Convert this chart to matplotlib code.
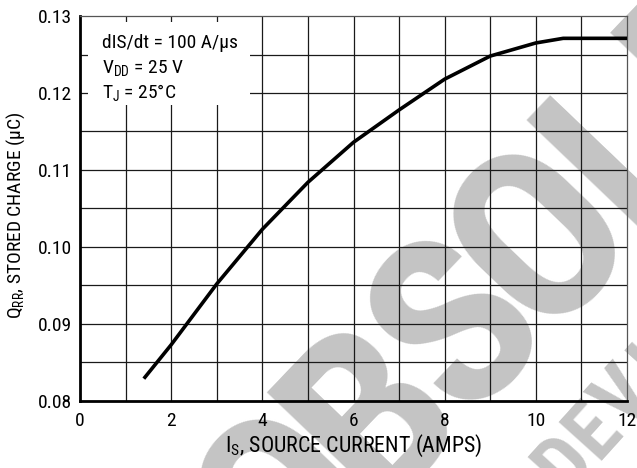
import numpy as np
import matplotlib
matplotlib.use("Agg")
import matplotlib.pyplot as plt
from matplotlib.patches import Rectangle
from matplotlib.font_manager import FontProperties

# ---- data ----
current_amps = [1.4, 2, 3, 4, 5, 6, 7, 8, 9, 10, 10.6, 12]
stored_charge_uC = [0.0829, 0.0873, 0.0952, 0.1023, 0.1084, 0.1136,
                    0.1178, 0.1218, 0.1248, 0.1265, 0.1271, 0.1271]
x_ticks = [0, 2, 4, 6, 8, 10, 12]
y_ticks = [0.08, 0.09, 0.10, 0.11, 0.12, 0.13]
y_tick_labels = ["0.08", "0.09", "0.10", "0.11", "0.12", "0.13"]
conditions = [r"dIS/dt = 100 A/μs", r"V$_{DD}$ = 25 V", r"T$_{J}$ = 25°C"]
watermark_main = "OBSOLETE"
watermark_sub = "DEVICE"

MAIN = "Roboto Condensed"
FONT = [MAIN, "IBM Plex Sans Condensed", "DejaVu Sans"]
plt.rcParams["font.family"] = FONT
plt.rcParams["mathtext.fontset"] = "custom"
plt.rcParams["mathtext.rm"] = MAIN
plt.rcParams["mathtext.it"] = MAIN
plt.rcParams["mathtext.default"] = "regular"

W, H = 637, 468
fig = plt.figure(figsize=(W / 100, H / 100), dpi=100)
fig.patch.set_facecolor("white")
ax = fig.add_axes([0.1256, 0.1432, 0.8587, 0.8226])
ax.set_facecolor("none")

# ---- watermark: letters laid out along a diagonal ----
renderer = fig.canvas.get_renderer()


def place_watermark(text, idx, target_px, size, angle, step):
    prop = FontProperties(family=FONT, weight="bold", size=size)
    th = np.deg2rad(angle)
    u = np.array([np.cos(th), np.sin(th)])
    up = np.array([-np.sin(th), np.cos(th)])
    tgt = np.array([target_px[0], H - target_px[1]], dtype=float)
    for i, ch in enumerate(text):
        w_c, h_c, d_c = renderer.get_text_width_height_descent(ch, prop, ismath=False)
        cap = h_c - d_c
        c = tgt + (i - idx) * step * u
        p = c - (cap / 2) * up
        fig.text(p[0] / W, p[1] / H, ch, rotation=angle, rotation_mode="anchor",
                 ha="center", va="baseline", fontproperties=prop,
                 color="#c4c4c4", zorder=-5)


place_watermark(watermark_main, 3, (530, 226), 172, 46.3, 122)
place_watermark(watermark_sub, 0, (560, 460), 58, 48, 44)

ax.set_xlim(0, 12)
ax.set_ylim(0.08, 0.13)

# grid
for xv in range(1, 12):
    ax.axvline(xv, color="#1a1a1a", lw=0.9, zorder=1)
for k in range(1, 10):
    ax.axhline(0.08 + 0.005 * k, color="#1a1a1a", lw=0.9, zorder=1)

# condition box
ax.add_patch(Rectangle((0.0146, 0.769), 0.2965, 0.215, transform=ax.transAxes,
                       facecolor="white", edgecolor="none", zorder=2))
for txt, yb in zip(conditions, [0.917, 0.852, 0.787]):
    ax.text(0.040, yb, txt, transform=ax.transAxes, fontsize=14,
            va="baseline", ha="left", zorder=3)

ax.plot(current_amps, stored_charge_uC, color="black", lw=2.6,
        solid_capstyle="butt", solid_joinstyle="round", zorder=4)

ax.set_xticks(x_ticks)
ax.set_yticks(y_ticks)
ax.set_yticklabels(y_tick_labels)
ax.tick_params(axis="both", length=0, labelsize=14)
ax.tick_params(axis="x", pad=8)
ax.tick_params(axis="y", pad=6)

for side in ["left", "bottom"]:
    ax.spines[side].set_linewidth(2.0)
    ax.spines[side].set_color("black")
for side in ["top", "right"]:
    ax.spines[side].set_linewidth(0.9)
    ax.spines[side].set_color("#555555")

ax.set_xlabel(r"I$_{S}$, SOURCE CURRENT (AMPS)", fontsize=15.8, labelpad=2)
ax.set_ylabel(r"Q$_{RR}$, STORED CHARGE (μC)", fontsize=14)
ax.yaxis.set_label_coords(-0.097, 0.483)

fig.savefig("out.png", dpi=100, facecolor="white")
